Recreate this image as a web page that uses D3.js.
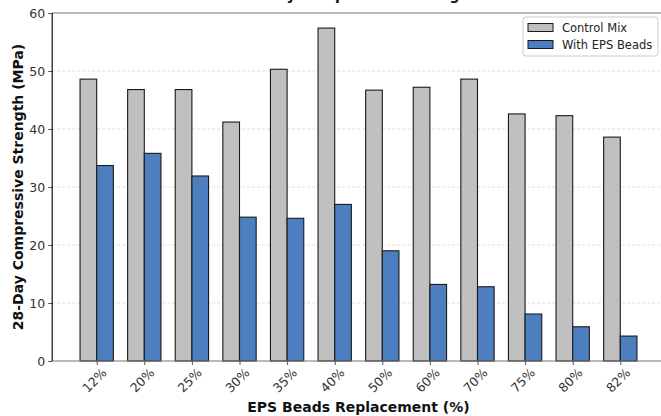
<!DOCTYPE html>
<html>
<head>
<meta charset="utf-8">
<script src="https://cdn.jsdelivr.net/npm/d3@7"></script>
<style>
  html, body { margin: 0; padding: 0; background: #fff; }
  svg { display: block; font-family: "DejaVu Sans", sans-serif; }
</style>
</head>
<body>
<svg id="chart" width="661" height="416"></svg>
<script>
const categories = ["12%", "20%", "25%", "30%", "35%", "40%", "50%", "60%", "70%", "75%", "80%", "82%"];
const controlMix = [48.6, 46.8, 46.8, 41.2, 50.3, 57.4, 46.7, 47.2, 48.6, 42.6, 42.3, 38.6];
const withEPS = [33.7, 35.8, 31.9, 24.8, 24.6, 27.0, 19.0, 13.2, 12.8, 8.1, 5.9, 4.3];
const yTicks = [0, 10, 20, 30, 40, 50, 60];
const seriesNames = ["Control Mix", "With EPS Beads"];
const seriesColors = ["#c0c0c0", "#4d7ebf"];

(function () {
const svg = d3.select("#chart");
const pLeft = 52.2, pRight = 664.8, pTop = 13, pBottom = 361;
const barW = 0.35;
const n = categories.length;
const pad = 0.05 * ((n - 1 + barW) - (-barW));
const x = d3.scaleLinear().domain([-barW - pad, n - 1 + barW + pad]).range([pLeft, pRight]);
const y = d3.scaleLinear().domain([0, 60]).range([pBottom, pTop]);

// grid
svg.append("g").selectAll("line").data(yTicks.filter(d => d > 0 && d < 60)).join("line")
  .attr("x1", pLeft).attr("x2", pRight)
  .attr("y1", d => y(d)).attr("y2", d => y(d))
  .attr("stroke", "#b0b0b0").attr("stroke-opacity", 0.55)
  .attr("stroke-width", 0.8).attr("stroke-dasharray", "3,2");

// bars
const series = [controlMix, withEPS];
series.forEach((vals, s) => {
  svg.append("g").selectAll("rect").data(vals).join("rect")
    .attr("x", (d, i) => x(i + (s === 0 ? -barW : 0)))
    .attr("width", (d, i) => x(i + barW) - x(i))
    .attr("y", d => y(d))
    .attr("height", d => y(0) - y(d))
    .attr("fill", seriesColors[s])
    .attr("stroke", "#1a1a1a").attr("stroke-width", 1.1);
});

// axes
const yAxis = d3.axisLeft(y).tickValues(yTicks).tickSize(4).tickPadding(3);
const gy = svg.append("g").attr("transform", `translate(${pLeft},0)`).call(yAxis);
gy.select(".domain").remove();
gy.selectAll(".tick line").attr("stroke", "#555");
gy.selectAll(".tick text").attr("font-size", 12.5).attr("fill", "#333").attr("font-family", "DejaVu Sans");

const xAxis = d3.axisBottom(x).tickValues(d3.range(n)).tickFormat(i => categories[i]).tickSize(4).tickPadding(0);
const gx = svg.append("g").attr("transform", `translate(0,${pBottom})`).call(xAxis);
gx.select(".domain").remove();
gx.selectAll(".tick line").attr("stroke", "#555");
gx.selectAll(".tick text")
  .attr("font-size", 12.5).attr("fill", "#333").attr("font-family", "DejaVu Sans")
  .attr("text-anchor", "middle").attr("dy", null)
  .attr("transform", "translate(-2,20) rotate(-45)")
  .attr("y", 0).attr("dominant-baseline", "middle");

// spines
svg.append("line").attr("x1", pLeft).attr("x2", pRight).attr("y1", pTop).attr("y2", pTop).attr("stroke", "#777").attr("stroke-width", 1);
svg.append("line").attr("x1", pLeft).attr("x2", pRight).attr("y1", pBottom).attr("y2", pBottom).attr("stroke", "#777").attr("stroke-width", 1.2);
svg.append("line").attr("x1", pRight).attr("x2", pRight).attr("y1", pTop).attr("y2", pBottom).attr("stroke", "#777").attr("stroke-width", 1);
svg.append("line").attr("x1", pLeft).attr("x2", pLeft).attr("y1", pTop).attr("y2", pBottom).attr("stroke", "#111").attr("stroke-width", 1.2);

// title (cut at the top, as in the reference)
svg.append("text").attr("x", (pLeft + pRight) / 2).attr("y", 0)
  .attr("text-anchor", "middle").attr("font-size", 14).attr("font-weight", "bold")
  .attr("fill", "#111").text("28-Day Compressive Strength");

// axis labels
svg.append("text").attr("x", (pLeft + pRight) / 2).attr("y", 412)
  .attr("text-anchor", "middle").attr("font-size", 14).attr("font-weight", "bold")
  .attr("fill", "#111").text("EPS Beads Replacement (%)");
svg.append("text").attr("transform", `translate(23,${(pTop + pBottom) / 2}) rotate(-90)`)
  .attr("text-anchor", "middle").attr("font-size", 14).attr("font-weight", "bold")
  .attr("fill", "#111").text("28-Day Compressive Strength (MPa)");

// legend
const lg = svg.append("g").attr("transform", "translate(523,17)");
lg.append("rect").attr("width", 135).attr("height", 39).attr("rx", 3)
  .attr("fill", "#fff").attr("fill-opacity", 0.85).attr("stroke", "#ccc");
seriesNames.forEach((name, i) => {
  const g = lg.append("g").attr("transform", `translate(5,${6.5 + i * 17})`);
  g.append("rect").attr("width", 25).attr("height", 8)
    .attr("fill", seriesColors[i]).attr("stroke", "#1a1a1a").attr("stroke-width", 1);
  g.append("text").attr("x", 34).attr("y", 4.5).attr("dominant-baseline", "middle")
    .attr("font-size", 11.5).attr("fill", "#222").text(name);
});
})();
</script>
</body>
</html>
